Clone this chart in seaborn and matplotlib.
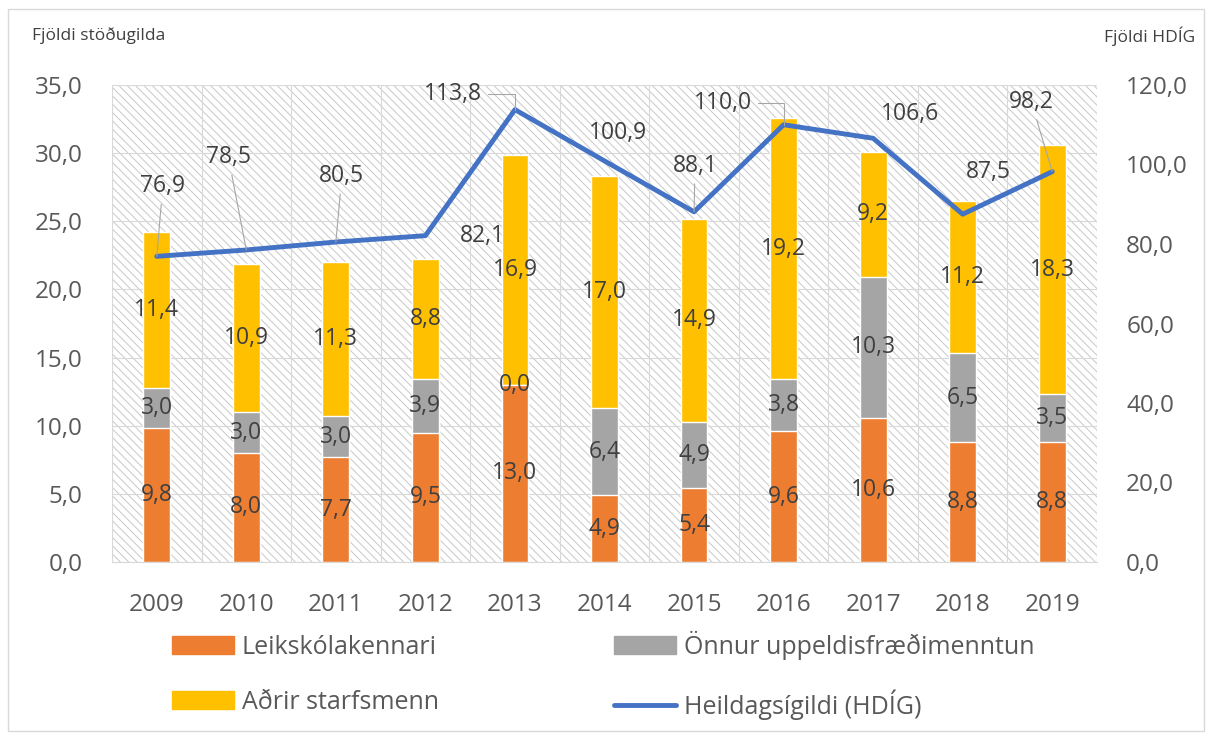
import matplotlib
matplotlib.use('Agg')
import matplotlib.pyplot as plt
import matplotlib.patches as mpatches
import matplotlib.lines as mlines
from matplotlib.ticker import FuncFormatter, FixedLocator
import numpy as np
import seaborn as sns

ar = ['2009', '2010', '2011', '2012', '2013', '2014', '2015', '2016', '2017', '2018', '2019']
leikskolakennari = [9.8, 8.0, 7.7, 9.5, 13.0, 4.9, 5.4, 9.6, 10.6, 8.8, 8.8]
onnur = [3.0, 3.0, 3.0, 3.9, 0.0, 6.4, 4.9, 3.8, 10.3, 6.5, 3.5]
adrir = [11.4, 10.9, 11.3, 8.8, 16.9, 17.0, 14.9, 19.2, 9.2, 11.2, 18.3]
hdig = [76.9, 78.5, 80.5, 82.1, 113.8, 100.9, 88.1, 110.0, 106.6, 87.5, 98.2]

# staðsetning merkja við línuna (pixlar miðað við punkt) og hvort á að draga leiðarlínu
merki_hlidrun = [(6, 70), (-18, 93), (6, 66), (57, 0), (-62, 16), (13, 28),
                 (1, 46), (-61, 22), (37, 24), (26, 42), (-21, 70)]
leidarlina = ['bein', 'bein', 'bein', None, 'horn', None, 'bein', 'horn', None, None, 'bein']

appelsinugulur = '#ED7D31'
grar = '#A5A5A5'
gulur = '#FFC000'
blar = '#4472C4'
textalitur = '#404040'
asalitur = '#595959'
grindalitur = '#D9D9D9'

sns.set_style('white')
plt.rcParams['font.family'] = ['Open Sans', 'DejaVu Sans']
plt.rcParams['hatch.linewidth'] = 0.7

def komma(v, pos=None):
    return f'{v:.1f}'.replace('.', ',')

fig = plt.figure(figsize=(12.12, 7.36), dpi=100)
ax = fig.add_axes([112 / 1212, 1 - 562 / 736, (1097 - 112) / 1212, (562 - 85) / 736])

# skástrikaður bakgrunnur
bakgrunnur = mpatches.Rectangle((0, 0), 1, 1, transform=ax.transAxes, facecolor='white',
                                edgecolor='#C8C8C8', hatch='\\\\\\\\', linewidth=0, zorder=0)
ax.add_patch(bakgrunnur)

botn2 = np.array(leikskolakennari) + np.array(onnur)
samtals = botn2 + np.array(adrir)

sns.barplot(x=ar, y=samtals, color=gulur, saturation=1, width=0.3, ax=ax, zorder=2)
sns.barplot(x=ar, y=botn2, color=grar, saturation=1, width=0.3, ax=ax, zorder=2)
sns.barplot(x=ar, y=leikskolakennari, color=appelsinugulur, saturation=1, width=0.3, ax=ax, zorder=2)

for i in range(len(ar)):
    ax.text(i, leikskolakennari[i] / 2, komma(leikskolakennari[i]), ha='center', va='center',
            fontsize=16.5, color=textalitur, zorder=3)
    ax.text(i, leikskolakennari[i] + onnur[i] / 2, komma(onnur[i]), ha='center', va='center',
            fontsize=16.5, color=textalitur, zorder=3)
    ax.text(i, botn2[i] + adrir[i] / 2, komma(adrir[i]), ha='center', va='center',
            fontsize=16.5, color=textalitur, zorder=3)

ax.set_xlim(-0.5, len(ar) - 0.5)
ax.set_ylim(0, 35)
ax.set_yticks(np.arange(0, 35.1, 5))
ax.yaxis.set_major_formatter(FuncFormatter(komma))
ax.xaxis.set_minor_locator(FixedLocator(np.arange(-0.5, len(ar), 1)))
ax.set_xlabel('')
ax.set_ylabel('')
ax.grid(axis='y', which='major', color=grindalitur, linewidth=0.8, zorder=1)
ax.grid(axis='x', which='minor', color=grindalitur, linewidth=0.8, zorder=1)
ax.grid(axis='x', which='major', visible=False)
ax.tick_params(axis='y', length=0, pad=21, labelsize=17.5, labelcolor=asalitur)
ax.tick_params(axis='x', which='major', length=0, pad=22, labelsize=17.5, labelcolor=asalitur)
ax.tick_params(axis='x', which='minor', length=9, color=grindalitur, width=0.8)
for s in ['top', 'left', 'right']:
    ax.spines[s].set_visible(False)
ax.spines['bottom'].set_color(grindalitur)

ax2 = ax.twinx()
sns.lineplot(x=np.arange(len(ar)), y=hdig, color=blar, linewidth=3.5, ax=ax2, zorder=4)
ax2.set_ylim(0, 120)
ax2.set_yticks(np.arange(0, 120.1, 20))
ax2.yaxis.set_major_formatter(FuncFormatter(komma))
ax2.tick_params(axis='y', length=0, pad=21, labelsize=17.5, labelcolor=asalitur)
ax2.set_ylabel('')
for s in ax2.spines.values():
    s.set_visible(False)
ax2.set_xlim(-0.5, len(ar) - 0.5)

for i, v in enumerate(hdig):
    dx, dy = merki_hlidrun[i]
    stikur = None
    if leidarlina[i] == 'bein':
        stikur = dict(arrowstyle='-', color='#A6A6A6', lw=0.8, shrinkA=2, shrinkB=0)
    elif leidarlina[i] == 'horn':
        stikur = dict(arrowstyle='-', color='#A6A6A6', lw=0.8, shrinkA=2, shrinkB=0,
                      connectionstyle='angle,angleA=0,angleB=90,rad=0')
    ax2.annotate(komma(v), xy=(i, v), xytext=(dx, dy), textcoords='offset pixels',
                 ha='center', va='center', fontsize=16.5, color=textalitur,
                 arrowprops=stikur, zorder=5)

fig.text(32 / 1212, 1 - 36 / 736, 'Fjöldi stöðugilda', fontsize=12.5, color=textalitur, va='center')
fig.text(1195 / 1212, 1 - 36 / 736, 'Fjöldi HDÍG', fontsize=12.5, color=textalitur, va='center', ha='right')

handles = [mpatches.Patch(color=appelsinugulur), mpatches.Patch(color=gulur),
           mpatches.Patch(color=grar), mlines.Line2D([], [], color=blar, linewidth=3.5)]
labels = ['Leikskólakennari', 'Aðrir starfsmenn', 'Önnur uppeldisfræðimenntun', 'Heildagsígildi (HDÍG)']
fig.legend(handles, labels, ncol=2, loc='upper left', bbox_to_anchor=(149 / 1212, 1 - 608 / 736),
           frameon=False, fontsize=18, handlelength=2.5, handleheight=0.7, handletextpad=0.3,
           columnspacing=7.0, labelspacing=1.2, labelcolor=asalitur)

fig.patches.append(mpatches.Rectangle((8 / 1212, 5 / 736), 1196 / 1212, 722 / 736,
                                      transform=fig.transFigure, fill=False,
                                      edgecolor=grindalitur, linewidth=1))

fig.savefig('out.png', dpi=100)
